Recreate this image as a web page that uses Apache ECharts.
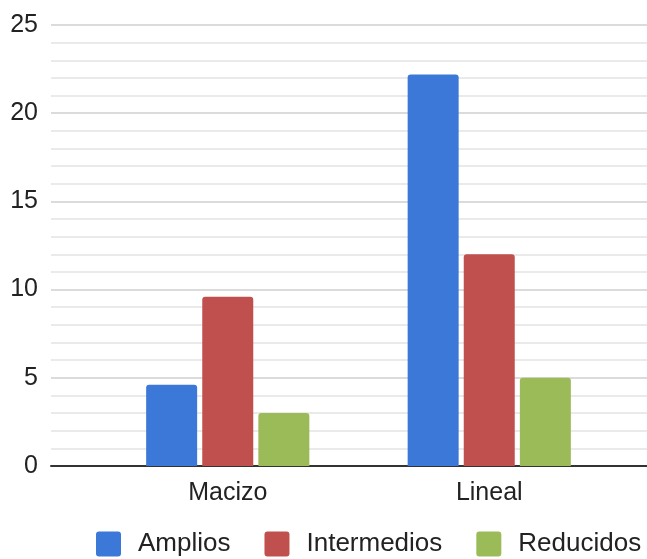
<!DOCTYPE html>
<html><head><meta charset="utf-8">
<script src="https://cdn.jsdelivr.net/npm/echarts@6/dist/echarts.min.js"></script>
<style>html,body{margin:0;padding:0;background:#fff}#c{width:647px;height:559px}</style>
</head><body><div id="c"></div>
<script>
const categories = ['Macizo', 'Lineal'];
const amplios = [4.6, 22.2];
const intermedios = [9.6, 12.0];
const reducidos = [3.0, 5.0];
const seriesNames = ['Amplios', 'Intermedios', 'Reducidos'];
const colors = ['#3c78d8', '#c0504d', '#9bbb59'];

const chart = echarts.init(document.getElementById('c'));
const font = 'Liberation Sans, Arial, sans-serif';
const barCommon = (name, data, i) => ({
  name, type: 'bar', data, xAxisIndex: 1, yAxisIndex: 1,
  barWidth: 51, barGap: '10%',
  itemStyle: { color: colors[i], borderRadius: [3, 3, 0, 0] }
});
chart.setOption({
  animation: false,
  color: colors,
  grid: [
    { left: 51, right: 0, top: 25, bottom: 93 },
    { left: 97, right: 27, top: 25, bottom: 93 }
  ],
  xAxis: [
    { gridIndex: 0, type: 'value', min: 0, max: 1, axisLabel: { show: false }, axisTick: { show: false },
      splitLine: { show: false }, axisLine: { show: true, lineStyle: { color: '#333', width: 2 } } },
    { gridIndex: 1, type: 'category', data: categories, axisLine: { show: false }, axisTick: { show: false },
      axisLabel: { fontSize: 25, color: '#222', fontFamily: font, margin: 15 } }
  ],
  yAxis: [
    { gridIndex: 0, type: 'value', min: 0, max: 25, interval: 5,
      axisLine: { show: false }, axisTick: { show: false },
      axisLabel: { fontSize: 25, color: '#222', fontFamily: font, margin: 13 },
      splitLine: { lineStyle: { color: '#cfcfcf', width: 1.5 } },
      minorTick: { show: false, splitNumber: 5 },
      minorSplitLine: { show: true, lineStyle: { color: '#e3e3e3', width: 1.5 } } },
    { gridIndex: 1, type: 'value', min: 0, max: 25, show: false }
  ],
  legend: {
    data: seriesNames, top: 531, left: 96, itemWidth: 25, itemHeight: 25, itemGap: 34, padding: 0,
    icon: 'path://M3,0H22Q25,0 25,3V22Q25,25 22,25H3Q0,25 0,22V3Q0,0 3,0Z',
    textStyle: { fontSize: 26, color: '#222', fontFamily: font, padding: [0, 0, 0, 12] }
  },
  series: [
    barCommon(seriesNames[0], amplios, 0),
    barCommon(seriesNames[1], intermedios, 1),
    barCommon(seriesNames[2], reducidos, 2)
  ]
});
</script></body></html>
